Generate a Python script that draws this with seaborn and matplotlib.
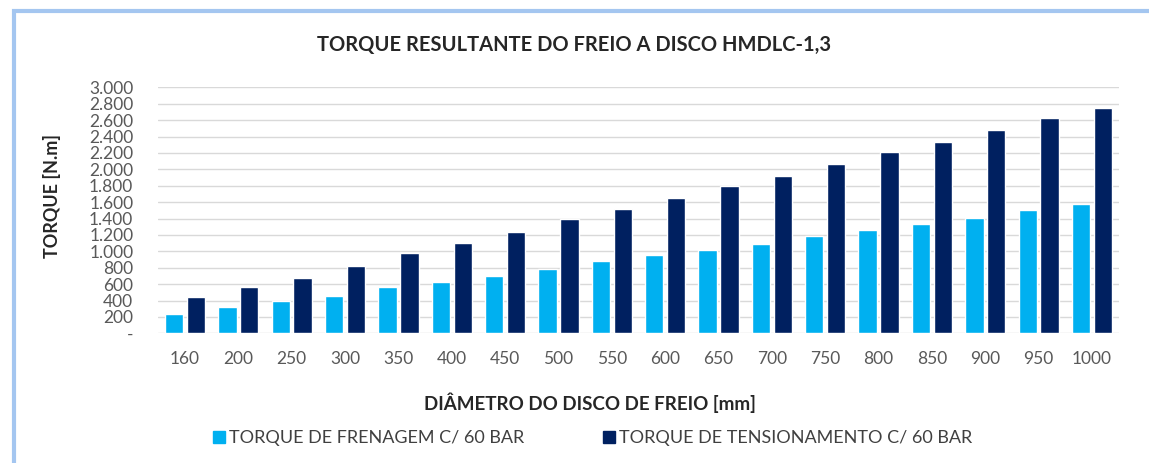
import matplotlib
matplotlib.use("Agg")
import matplotlib.pyplot as plt
from matplotlib.ticker import FuncFormatter, MultipleLocator
from matplotlib.lines import Line2D
from matplotlib.patches import Rectangle
import seaborn as sns
import pandas as pd

diametros = ["160", "200", "250", "300", "350", "400", "450", "500", "550",
             "600", "650", "700", "750", "800", "850", "900", "950", "1000"]
frenagem = [240, 320, 390, 460, 560, 630, 700, 780, 880,
            950, 1020, 1090, 1190, 1260, 1335, 1410, 1505, 1580]
tensionamento = [440, 560, 680, 820, 980, 1100, 1240, 1390, 1510,
                 1650, 1800, 1920, 2060, 2210, 2330, 2475, 2620, 2745]
series = ["TORQUE DE FRENAGEM C/ 60 BAR", "TORQUE DE TENSIONAMENTO C/ 60 BAR"]
colors = ["#00B0F0", "#002060"]

df = pd.DataFrame({
    "diametro": diametros * 2,
    "torque": frenagem + tensionamento,
    "serie": [series[0]] * len(diametros) + [series[1]] * len(diametros),
})

sns.set_theme(style="white")
plt.rcParams["font.family"] = ["Lato", "DejaVu Sans"]

fig = plt.figure(figsize=(11.49, 4.63), dpi=100)
fig.patch.set_facecolor("white")
ax = fig.add_axes([0.1378, 0.2801, 0.8358, 0.5313])

sns.barplot(data=df, x="diametro", y="torque", hue="serie", palette=colors,
            order=diametros, hue_order=series, width=0.82, gap=0.16,
            saturation=1, legend=False, ax=ax, zorder=3)

ax.set_xlim(-0.5, len(diametros) - 0.5)
ax.set_ylim(0, 3000)
ax.yaxis.set_major_locator(MultipleLocator(200))
ax.yaxis.set_major_formatter(FuncFormatter(
    lambda v, p: "-" if v == 0 else f"{int(v):,}".replace(",", ".")))
ax.grid(axis="y", color="#D9D9D9", linewidth=1.0, zorder=0)
ax.grid(axis="x", visible=False)
for s in ax.spines.values():
    s.set_visible(False)
ax.tick_params(axis="both", length=0, labelcolor="#595959")
ax.tick_params(axis="y", pad=18, labelsize=12.5)
ax.tick_params(axis="x", pad=13, labelsize=12.5)
ax.set_xlabel("")
ax.set_ylabel("")

fig.text(52 / 1149, 1 - 196 / 463, "TORQUE [N.m]", rotation=90,
         ha="center", va="center", fontsize=13, fontweight="bold", color="#262626")
fig.text(0.5, 1 - 45 / 463, "TORQUE RESULTANTE DO FREIO A DISCO HMDLC-1,3",
         ha="center", va="center", fontsize=14.5, fontweight="bold", color="#262626")
fig.text(590 / 1149, 1 - 403 / 463, "DIÂMETRO DO DISCO DE FREIO [mm]",
         ha="center", va="center", fontsize=13.5, fontweight="bold", color="#262626")

handles = [Line2D([], [], marker="s", linestyle="none", markersize=8,
                  markerfacecolor=c, markeredgecolor=c) for c in colors]
fig.legend(handles, series, loc="center", bbox_to_anchor=(592 / 1149, 1 - 438 / 463),
           ncol=2, frameon=False, fontsize=13, handlelength=0.8, handletextpad=0.15,
           columnspacing=4.3, labelcolor="#404040")

fig.add_artist(Rectangle((14 / 1149, -0.1), 1.2, 1 - 11 / 463 + 0.1,
                         transform=fig.transFigure, fill=False,
                         edgecolor="#A4C6F0", linewidth=3))

fig.savefig("out.png", dpi=100, facecolor="white")
